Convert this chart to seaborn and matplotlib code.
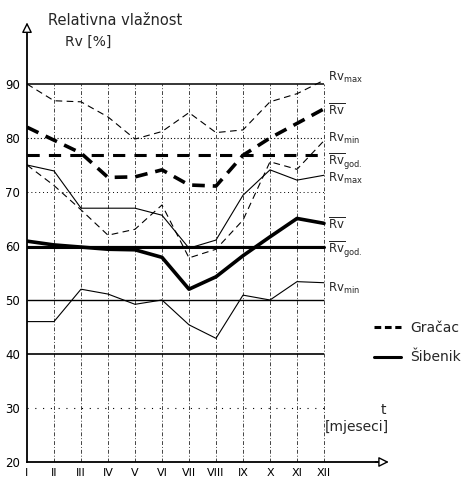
import matplotlib
matplotlib.use("Agg")
import matplotlib.pyplot as plt
import seaborn as sns
import pandas as pd
from matplotlib.lines import Line2D

# ---------------- data ----------------
months = list(range(1, 13))
month_labels = ["I", "II", "III", "IV", "V", "VI", "VII", "VIII", "IX", "X", "XI", "XII"]
yticks = [20, 30, 40, 50, 60, 70, 80, 90]

gracac_max = [90.0, 86.9, 86.7, 83.9, 79.8, 81.2, 84.7, 81.0, 81.5, 86.7, 88.2, 90.7]
gracac_mean = [82.0, 79.6, 77.2, 72.7, 72.8, 74.1, 71.3, 71.1, 76.8, 80.0, 82.7, 85.4]
gracac_min = [75.0, 71.2, 66.7, 62.0, 63.1, 67.6, 57.8, 59.4, 64.8, 75.6, 74.2, 79.5]
gracac_annual = 76.8

sibenik_max = [75.0, 73.9, 67.0, 67.0, 67.0, 65.7, 59.6, 61.1, 69.4, 74.1, 72.2, 73.1]
sibenik_mean = [60.9, 60.2, 59.8, 59.4, 59.3, 57.9, 52.0, 54.3, 58.2, 61.7, 65.1, 64.2]
sibenik_min = [46.0, 46.0, 52.0, 51.1, 49.2, 50.0, 45.4, 42.9, 50.9, 50.0, 53.4, 53.2]
sibenik_annual = 59.9

# ---------------- style ----------------
sns.set_style("white")
plt.rcParams["font.family"] = ["DejaVu Sans"]
plt.rcParams["mathtext.fontset"] = "dejavusans"

fig = plt.figure(figsize=(4.64, 4.82), dpi=100)
ax = fig.add_axes([27 / 464, 20 / 482, 437 / 464, 462 / 482])
ax.set_xlim(1, 1 + 437 / 27)
ax.set_ylim(20, 20 + 462 / 5.4)

# axes spines with arrows
for s in ["top", "right"]:
    ax.spines[s].set_visible(False)
ax.spines["left"].set_bounds(20, 100.2)
ax.spines["bottom"].set_bounds(1, 14.0)
for s in ["left", "bottom"]:
    ax.spines[s].set_linewidth(1.3)
    ax.spines[s].set_color("black")
ax.annotate("", xy=(1, 101.4), xytext=(1, 99.6),
            arrowprops=dict(arrowstyle="-|>,head_length=0.6,head_width=0.3", fc="white", ec="black",
                            lw=1.0, shrinkA=0, shrinkB=0), annotation_clip=False)
ax.annotate("", xy=(14.4, 20), xytext=(13.9, 20),
            arrowprops=dict(arrowstyle="-|>,head_length=0.6,head_width=0.3", fc="white", ec="black",
                            lw=1.0, shrinkA=0, shrinkB=0), annotation_clip=False)

ax.set_xticks(months, month_labels)
ax.set_yticks(yticks)
ax.tick_params(axis="both", length=0, colors="black")
ax.tick_params(axis="y", pad=5, labelsize=8.5)
ax.tick_params(axis="x", pad=4, labelsize=8)
ax.set_xlabel("")
ax.set_ylabel("")

# grid
ax.vlines(months[1:], 20, 90, colors="#444444", linewidth=0.7, linestyles=(0, (4, 2, 1, 2)), zorder=1)
for lvl, ls, lw in [(90, "-", 1.1), (80, (0, (1, 2)), 0.8), (70, (0, (1, 3)), 0.7),
                    (50, "-", 1.0), (40, "-", 1.2), (30, (0, (1, 6)), 0.8), (60, "-", 0.8)]:
    ax.hlines(lvl, 1, 12, colors="black", linewidth=lw, linestyles=ls, zorder=1)

# series
thin_dash = (0, (6, 4))
sns.lineplot(x=months, y=gracac_max, ax=ax, color="black", lw=0.8, linestyle=thin_dash)
sns.lineplot(x=months, y=gracac_min, ax=ax, color="black", lw=0.8, linestyle=thin_dash)
sns.lineplot(x=months, y=gracac_mean, ax=ax, color="black", lw=2.6, linestyle=(0, (3.5, 2.2)))
sns.lineplot(x=months, y=[gracac_annual] * 12, ax=ax, color="black", lw=2.2, linestyle=(0, (4, 3)))
sns.lineplot(x=months, y=sibenik_max, ax=ax, color="black", lw=0.8)
sns.lineplot(x=months, y=sibenik_min, ax=ax, color="black", lw=0.8)
sns.lineplot(x=months, y=sibenik_mean, ax=ax, color="black", lw=2.6)
sns.lineplot(x=months, y=[sibenik_annual] * 12, ax=ax, color="black", lw=2.2)

# right-hand labels
lab_max = r"$\mathrm{Rv}_{\mathrm{max}}$"
lab_mean = r"$\overline{\mathrm{Rv}}$"
lab_god = r"$\overline{\mathrm{Rv}}_{\mathrm{god.}}$"
lab_min = r"$\mathrm{Rv}_{\mathrm{min}}$"
for val, lab, dy in [(gracac_max[-1], lab_max, 2), (gracac_mean[-1], lab_mean, -1),
                     (gracac_min[-1], lab_min, 1.5), (gracac_annual, lab_god, -4),
                     (sibenik_max[-1], lab_max, -2), (sibenik_mean[-1], lab_mean, -1),
                     (sibenik_annual, lab_god, -2), (sibenik_min[-1], lab_min, -4)]:
    ax.annotate(lab, xy=(12, val), xytext=(3, dy), textcoords="offset points",
                ha="left", va="center", fontsize=8.5, annotation_clip=False)

# titles
ax.text(1.78, 101.85, "Relativna vlažnost", fontsize=10.5, ha="left", va="center", clip_on=False)
ax.text(2.41, 97.8, "Rv [%]", fontsize=10, ha="left", va="center", clip_on=False)
ax.text(14.19, 29.6, "t", fontsize=10, ha="center", va="center")
ax.text(13.22, 26.5, "[mjeseci]", fontsize=10, ha="center", va="center")

# legend
handles = [Line2D([], [], color="black", lw=2.2, linestyle=(0, (2.2, 1.2))),
           Line2D([], [], color="black", lw=2.2)]
ax.legend(handles, ["Gračac", "Šibenik"], loc="upper left", bbox_to_anchor=(0.795, 0.305),
          frameon=False, fontsize=10, handlelength=1.9, handletextpad=0.7,
          labelspacing=1.1, borderpad=0, borderaxespad=0)

fig.savefig("out.png", dpi=100)
